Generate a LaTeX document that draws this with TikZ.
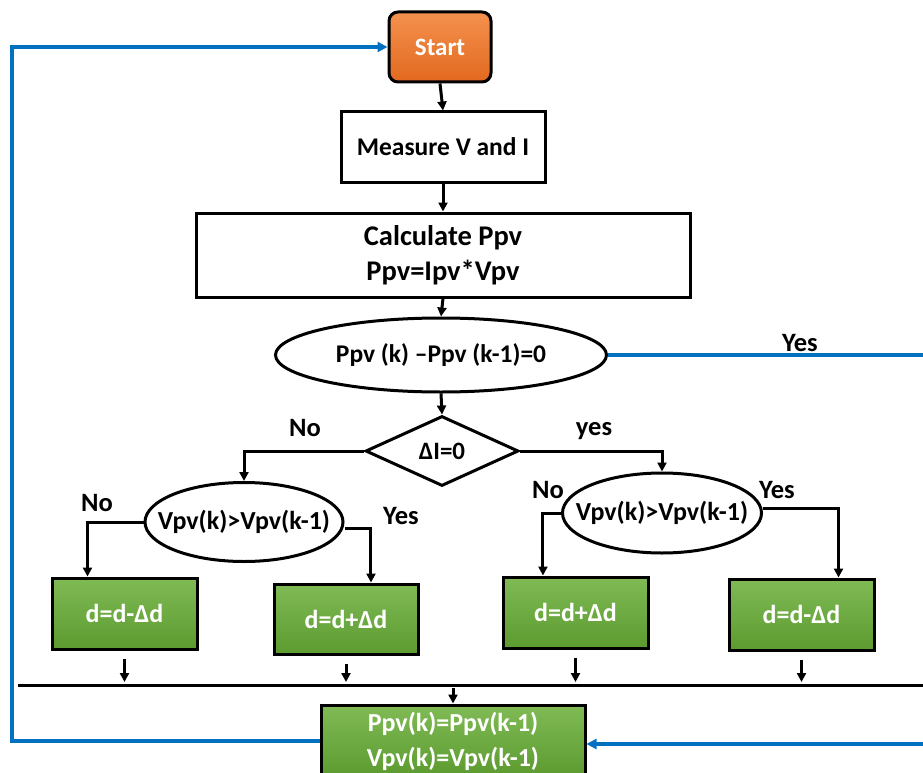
\documentclass[tikz,border=0pt]{standalone}
\usepackage{fontspec}
\setmainfont{Carlito}
\usetikzlibrary{shapes.geometric,arrows.meta,calc}
\definecolor{startA}{HTML}{F4914E}
\definecolor{startB}{HTML}{E2691F}
\definecolor{greenA}{HTML}{80BA55}
\definecolor{greenB}{HTML}{5C9B30}
\definecolor{loopblue}{HTML}{0070C0}
\newcommand{\fs}[1]{\bfseries\fontsize{#1}{35}\selectfont}
\begin{document}
\begin{tikzpicture}[x=1pt,y=-1pt,
  base/.style={draw=black,line width=3pt,align=center,inner sep=0pt,font=\fs{25.5}},
  procbox/.style={base,rectangle,fill=white},
  startbox/.style={base,rounded corners=9pt,top color=startA,bottom color=startB,text=white},
  greenbox/.style={base,rectangle,top color=greenA,bottom color=greenB,text=white,font=\fs{26}},
  decision/.style={base,ellipse,fill=white},
  tightdecision/.style={decision,inner xsep=-18pt,font=\fs{26}},
  testbox/.style={base,diamond,fill=white},
  flow/.style={line width=3pt,-{Triangle[length=9pt,width=9pt]}},
  bluepath/.style={line width=3.5pt,draw=loopblue,-{Triangle[length=10pt,width=10pt]}},
  lbl/.style={font=\fs{26.5},inner sep=0pt}
]
\useasboundingbox (0,0) rectangle (923,773);
\clip (0,0) rectangle (923,773);

% main column
\node[startbox,minimum width=102pt,minimum height=70pt,font=\fs{25}] (start) at (440,47) {Start};
\node[procbox,minimum width=204pt,minimum height=70pt] (meas) at (443,147) {Measure V and I};
\node[procbox,minimum width=494pt,minimum height=84pt,font=\fs{28.5}]
  (calc) at (443,255) {Calculate Ppv\\Ppv=Ipv*Vpv};
\node[decision,minimum width=331pt,minimum height=74pt] (dp) at (441,355) {Ppv (k) –Ppv (k-1)=0};
\node[testbox,minimum width=153pt,minimum height=70pt,font=\fs{25}] (di) at (442,451) {ΔI=0};

% second level decisions
\node[tightdecision,minimum width=198pt,minimum height=79pt] (vl) at (244,522) {Vpv(k)>Vpv(k-1)};
\node[tightdecision,minimum width=199pt,minimum height=80pt] (vr) at (662,513) {Vpv(k)>Vpv(k-1)};

% duty cycle updates
\node[greenbox,minimum width=145pt,minimum height=71pt] (b1) at (124.5,613.5) {d=d-Δd};
\node[greenbox,minimum width=144pt,minimum height=70pt] (b2) at (346,619) {d=d+Δd};
\node[greenbox,minimum width=145pt,minimum height=71pt] (b3) at (575.5,612.5) {d=d+Δd};
\node[greenbox,minimum width=145pt,minimum height=71pt] (b4) at (801.5,614.5) {d=d-Δd};

% update of stored values
\node[greenbox,minimum width=264pt,minimum height=72pt,font=\fs{26}]
  (fin) at (453,741) {Ppv(k)=Ppv(k-1)\\Vpv(k)=Vpv(k-1)};

% merge bar
\coordinate (barL) at (18,685);
\coordinate (barR) at (930,685);
\draw[line width=3pt] (barL) -- (barR);

% connectors
\draw[flow] (start.south) -- (meas.north);
\draw[flow] (meas.south) -- (calc.north);
\draw[flow] (calc.south) -- (dp.north);
\draw[flow] (dp.south) -- (di.north);
\draw[flow] (di.west) -| (vl.north);
\draw[flow] (di.east) -| (vr.north);
\draw[flow] (vl.west) -| ($(b1.north west)!0.25!(b1.north east)$);
\draw[flow] ([yshift=-6pt]vl.east) -| ($(b2.north west)!0.67!(b2.north east)$);
\draw[flow] (vr.west) -| ($(b3.north west)!0.28!(b3.north east)$);
\draw[flow] ([yshift=5pt]vr.east) -| ($(b4.north west)!0.75!(b4.north east)$);
\foreach \b in {b1,b2,b3,b4}
  \draw[flow,shorten <=8pt,shorten >=3pt] (\b.south) -- (\b.south |- barL);
\draw[flow,shorten <=3pt] (fin.north |- barL) -- (fin.north);

% feedback loops
\coordinate (lc) at (12,47);
\draw[bluepath] (fin.west) -| (lc) -- (start.west);
\draw[bluepath] (dp.east) -- (940,355) |- ([yshift=-3pt]fin.east);

% branch labels
\node[lbl] at (800,343) {Yes};
\node[lbl] at (305,428) {No};
\node[lbl] at (594,431) {yes};
\node[lbl] at (97,503) {No};
\node[lbl] at (401,516) {Yes};
\node[lbl] at (548,490) {No};
\node[lbl] at (777,490) {Yes};
\end{tikzpicture}
\end{document}
